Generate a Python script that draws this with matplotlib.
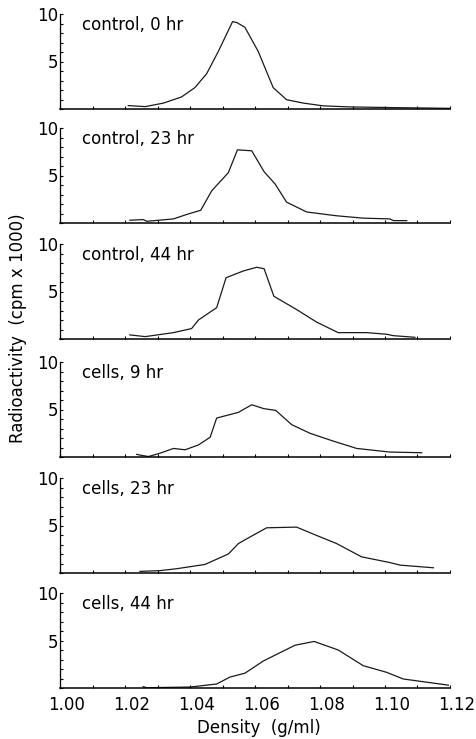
import matplotlib
matplotlib.use('Agg')
import matplotlib.pyplot as plt
import matplotlib.transforms as mtransforms
from matplotlib.ticker import MultipleLocator

# density (g/ml) and radioactivity (cpm x 1000)
ctl0_x = [1.0210, 1.0262, 1.0318, 1.0374, 1.0415, 1.0451, 1.0487, 1.0531, 1.0544,
          1.0569, 1.0610, 1.0656, 1.0697, 1.0749, 1.0810, 1.0892, 1.1015, 1.1200]
ctl0_y = [0.36, 0.25, 0.62, 1.27, 2.25, 3.7, 6.05, 9.2, 9.1,
          8.6, 6.05, 2.25, 0.98, 0.62, 0.33, 0.22, 0.15, 0.07]

ctl23_x = [1.0215, 1.0256, 1.0267, 1.0349, 1.0390, 1.0433, 1.0467, 1.0518, 1.0546,
           1.0590, 1.0628, 1.0662, 1.0697, 1.0759, 1.0851, 1.0933, 1.1015, 1.1026, 1.1067]
ctl23_y = [0.29, 0.36, 0.18, 0.43, 0.9, 1.34, 3.4, 5.3, 7.7,
           7.6, 5.4, 4.1, 2.2, 1.16, 0.76, 0.51, 0.43, 0.25, 0.25]

ctl44_x = [1.0215, 1.0262, 1.0349, 1.0405, 1.0426, 1.0482, 1.0511, 1.0564, 1.0605,
           1.0628, 1.0658, 1.0728, 1.0790, 1.0856, 1.0944, 1.1005, 1.1026, 1.1092]
ctl44_y = [0.43, 0.25, 0.67, 1.1, 2.0, 3.3, 6.45, 7.16, 7.55,
           7.4, 4.5, 3.1, 1.77, 0.67, 0.67, 0.5, 0.35, 0.18]

cel9_x = [1.0236, 1.0246, 1.0272, 1.0308, 1.0349, 1.0385, 1.0426, 1.0462, 1.0482,
          1.0549, 1.0590, 1.0626, 1.0664, 1.0713, 1.0769, 1.0841, 1.0913, 1.1015, 1.1113]
cel9_y = [0.28, 0.2, 0.05, 0.4, 0.9, 0.76, 1.27, 2.08, 4.1,
          4.7, 5.5, 5.1, 4.9, 3.4, 2.5, 1.67, 0.9, 0.52, 0.45]

cel23_x = [1.0246, 1.0308, 1.0359, 1.0446, 1.0518, 1.0549, 1.0585, 1.0636, 1.0728,
           1.0779, 1.0851, 1.0928, 1.1015, 1.1046, 1.1149]
cel23_y = [0.17, 0.25, 0.45, 0.9, 2.0, 3.1, 3.8, 4.76, 4.83,
           4.1, 3.1, 1.7, 1.1, 0.83, 0.55]

cel44_x = [1.0256, 1.0267, 1.0400, 1.0482, 1.0523, 1.0569, 1.0626, 1.0723, 1.0782,
           1.0856, 1.0933, 1.1005, 1.1056, 1.1195]
cel44_y = [0.14, 0.03, 0.1, 0.42, 1.15, 1.56, 2.85, 4.5, 4.9,
           4.0, 2.35, 1.65, 0.95, 0.3]

panel_labels = ['control, 0 hr', 'control, 23 hr', 'control, 44 hr',
                'cells, 9 hr', 'cells, 23 hr', 'cells, 44 hr']
series = [(ctl0_x, ctl0_y), (ctl23_x, ctl23_y), (ctl44_x, ctl44_y),
          (cel9_x, cel9_y), (cel23_x, cel23_y), (cel44_x, cel44_y)]
x_ticks = [1.00, 1.02, 1.04, 1.06, 1.08, 1.10, 1.12]

W, H = 477, 739
baselines = [109, 223, 339, 457, 573, 688]   # pixel rows of the zero line
ph = 95                                       # pixel height of 0..10
fs = 12

plt.rcParams['font.family'] = 'DejaVu Sans'
fig = plt.figure(figsize=(W / 100, H / 100), dpi=100)

for i, (lab, (xs, ys)) in enumerate(zip(panel_labels, series)):
    b = baselines[i]
    ax = fig.add_axes([60 / W, (H - b) / H, 390 / W, ph / H])
    ax.plot(xs, ys, color='#1a1a1a', lw=0.9)
    ax.set_xlim(1.00, 1.12)
    ax.set_ylim(0, 10)
    for s in ['top', 'right']:
        ax.spines[s].set_visible(False)
    ax.spines['left'].set_linewidth(0.9)
    ax.spines['bottom'].set_linewidth(1.1)
    ax.set_yticks([5, 10])
    ax.set_yticklabels(['5', '10'], fontsize=fs)
    ax.yaxis.set_minor_locator(MultipleLocator(1))
    ax.xaxis.set_minor_locator(MultipleLocator(0.01))
    ax.tick_params(axis='y', which='both', direction='in', length=2, width=0.8, pad=1)
    ax.tick_params(axis='x', which='both', direction='in', length=2, width=0.8, pad=6)
    ax.set_xticks(x_ticks)
    if i < 5:
        ax.set_xticklabels([])
    else:
        ax.set_xticklabels(['%.2f' % t for t in x_ticks], fontsize=fs)
        # the original prints its tick labels a little right of the ticks
        off = mtransforms.ScaledTranslation(7 / 100, 0, fig.dpi_scale_trans)
        for t in ax.get_xticklabels():
            t.set_transform(t.get_transform() + off)
    ax.text(0.056, 0.88, lab, transform=ax.transAxes, fontsize=fs,
            va='center', ha='left')

fig.text(259 / W, 1 - 728 / H, 'Density  (g/ml)', fontsize=fs,
         ha='center', va='center')
fig.text(18 / W, 1 - 328 / H, 'Radioactivity  (cpm x 1000)', fontsize=fs,
         ha='center', va='center', rotation=90)

fig.savefig('out.png', dpi=100)
